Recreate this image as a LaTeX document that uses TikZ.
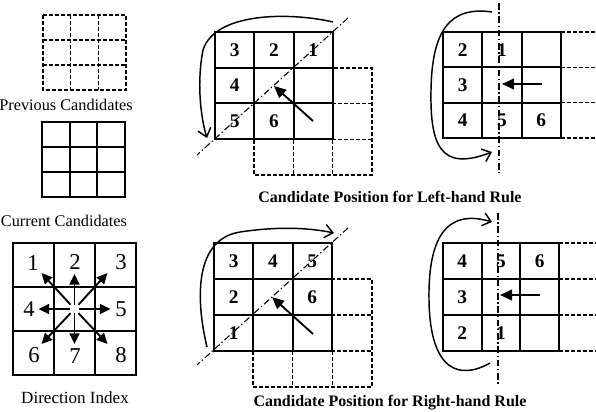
\documentclass[tikz,border=0pt]{standalone}
\usepackage{fontspec}
\setmainfont{Liberation Serif}
\usetikzlibrary{arrows.meta,calc}
\newcommand\mkgrid[5]{%
  \draw[#1] (#2,#3) rectangle (#4,#5);
  \draw[#1] ({#2+(#4-#2)/3},#3) -- ({#2+(#4-#2)/3},#5);
  \draw[#1] ({#2+2*(#4-#2)/3},#3) -- ({#2+2*(#4-#2)/3},#5);
  \draw[#1] (#2,{#3+(#5-#3)/3}) -- (#4,{#3+(#5-#3)/3});
  \draw[#1] (#2,{#3+2*(#5-#3)/3}) -- (#4,{#3+2*(#5-#3)/3});
}
\begin{document}
\begin{tikzpicture}[x=0.75pt,y=-0.75pt,
  solidgrid/.style={line width=1.45pt},
  dashgrid/.style={line width=1pt, dash pattern=on 3pt off 1.5pt},
  dashdot/.style={line width=0.8pt, dash pattern=on 5pt off 2pt on 1pt off 2pt},
  num/.style={font=\fontsize{14.5}{15}\selectfont\bfseries, inner sep=0pt},
  dnum/.style={font=\fontsize{17}{18}\selectfont, inner sep=0pt},
  lbl/.style={font=\fontsize{12.2}{13}\selectfont, inner sep=0pt},
  captext/.style={font=\fontsize{12}{13}\selectfont\bfseries, inner sep=0pt},
  turn/.style={line width=1.1pt, -{Straight Barb[length=6pt,width=10pt,line width=1.1pt]}},
  move/.style={line width=1.4pt, -{Triangle[length=9pt,width=8pt]}},
  diri/.style={line width=1.4pt, -{Triangle[length=8pt,width=7.5pt]}},
]
\useasboundingbox (0,0) rectangle (596,411);

% ---------- left column ----------
\mkgrid{dashgrid}{43}{15}{126}{90}
\node[lbl] (prevlbl) at (66,105) {Previous Candidates};
\mkgrid{solidgrid}{42}{122}{125}{197}
\node[lbl] (curlbl) at (64,221) {Current Candidates};
\mkgrid{solidgrid}{13}{243}{136}{375}
\node[lbl,font=\fontsize{12.8}{13}\selectfont] (dirlbl) at (75,398) {Direction Index};

\coordinate (dc) at (74.5,309);
\foreach \n/\dx/\dy in {1/-33/-36, 2/0/-35, 3/33/-36, 4/-36/0, 5/36/0, 6/-33/35, 7/0/35, 8/33/35}{
  \coordinate (dt\n) at (74.5+\dx,309+\dy);
  \coordinate (ds\n) at ($(dc)!0.12!(dt\n)$);
  \draw[diri] (ds\n) -- (dt\n);
}
\node[dnum] (d1) at (33,263) {1};
\node[dnum] (d2) at (75,262) {2};
\node[dnum] (d3) at (121,262) {3};
\node[dnum] (d4) at (29,309) {4};
\node[dnum] (d5) at (121,309) {5};
\node[dnum] (d6) at (34,355) {6};
\node[dnum] (d7) at (75,356) {7};
\node[dnum] (d8) at (121,355) {8};

% ---------- panel A: left-hand rule, diagonal ----------
\mkgrid{dashgrid}{254}{68}{372}{175}
\fill[white] (215,32) rectangle (333,139);
\mkgrid{solidgrid}{215}{32}{333}{139}
\node[num] (a3) at (234.7,50) {3};
\node[num] (a2) at (274,50) {2};
\node[num] (a1) at (313.3,50) {1};
\node[num] (a4) at (234.7,85.5) {4};
\node[num] (a5) at (234.7,121) {5};
\node[num] (a6) at (274,121) {6};
\coordinate (ad1) at (348,18);
\coordinate (ad2) at (197,155);
\draw[dashdot] (ad1) -- (ad2);
\coordinate (as) at (333,22);
\coordinate (ae) at (207,138);
\draw[turn] (as) .. controls (290,12) and (215,12) .. (203,50) .. controls (197,80) and (200,115) .. (ae);
\coordinate (at) at (313,121);
\coordinate (ah) at (274,86);
\draw[move] (at) -- (ah);
\node[captext] (capA) at (390,197) {Candidate Position for Left-hand Rule};

% ---------- panel B: left-hand rule, straight ----------
\foreach \yy in {32,67.33,102.67,138}{
  \draw[dashgrid] (561,\yy) -- (596,\yy);
}
\mkgrid{solidgrid}{443}{32}{561}{138}
\node[num] (b2) at (462.7,49.7) {2};
\node[num] (b1) at (502,49.7) {1};
\node[num] (b3) at (462.7,85) {3};
\node[num] (b4) at (462.7,120.3) {4};
\node[num] (b5) at (502,120.3) {5};
\node[num] (b6) at (541.3,120.3) {6};
\coordinate (bd1) at (499,3);
\coordinate (bd2) at (499,173);
\draw[dashdot] (bd1) -- (bd2);
\coordinate (bs) at (492,12);
\coordinate (be) at (492,152);
\draw[turn] (bs) .. controls (450,6) and (432,30) .. (431,90) .. controls (430,145) and (440,172) .. (be);
\coordinate (bt) at (542,84);
\coordinate (bh) at (502,84);
\draw[move] (bt) -- (bh);

% ---------- panel C: right-hand rule, diagonal ----------
\mkgrid{dashgrid}{253}{279}{372}{387}
\fill[white] (214,243) rectangle (332,351);
\mkgrid{solidgrid}{214}{243}{332}{351}
\node[num] (c3) at (233.7,261) {3};
\node[num] (c4) at (273,261) {4};
\node[num] (c5) at (312.3,261) {5};
\node[num] (c2) at (233.7,297) {2};
\node[num] (c6) at (312.3,297) {6};
\node[num] (c1) at (233.7,333) {1};
\coordinate (cd1) at (348,228);
\coordinate (cd2) at (197,365);
\draw[dashdot] (cd1) -- (cd2);
\coordinate (cs) at (207,347);
\coordinate (ce) at (334,233);
\draw[turn] (cs) .. controls (198,310) and (190,240) .. (240,232) .. controls (280,226) and (310,228) .. (ce);
\coordinate (ct) at (313,334);
\coordinate (ch) at (272,297);
\draw[move] (ct) -- (ch);
\node[captext] (capC) at (390,403) {Candidate Position for Right-hand Rule};

% ---------- panel D: right-hand rule, straight ----------
\foreach \yy in {243,279,315,351}{
  \draw[dashgrid] (559,\yy) -- (596,\yy);
}
\mkgrid{solidgrid}{443}{243}{559}{351}
\node[num] (d4n) at (462.3,261) {4};
\node[num] (d5n) at (501,261) {5};
\node[num] (d6n) at (539.7,261) {6};
\node[num] (d3n) at (462.3,297) {3};
\node[num] (d2n) at (462.3,333) {2};
\node[num] (d1n) at (501,333) {1};
\coordinate (dd1) at (498,213);
\coordinate (dd2) at (498,385);
\draw[dashdot] (dd1) -- (dd2);
\coordinate (ds) at (490,363);
\coordinate (de) at (492,222);
\draw[turn] (ds) .. controls (460,380) and (430,372) .. (429,300) .. controls (428,240) and (445,208) .. (de);
\coordinate (dtt) at (540,295);
\coordinate (dh) at (500,295);
\draw[move] (dtt) -- (dh);
\end{tikzpicture}
\end{document}
